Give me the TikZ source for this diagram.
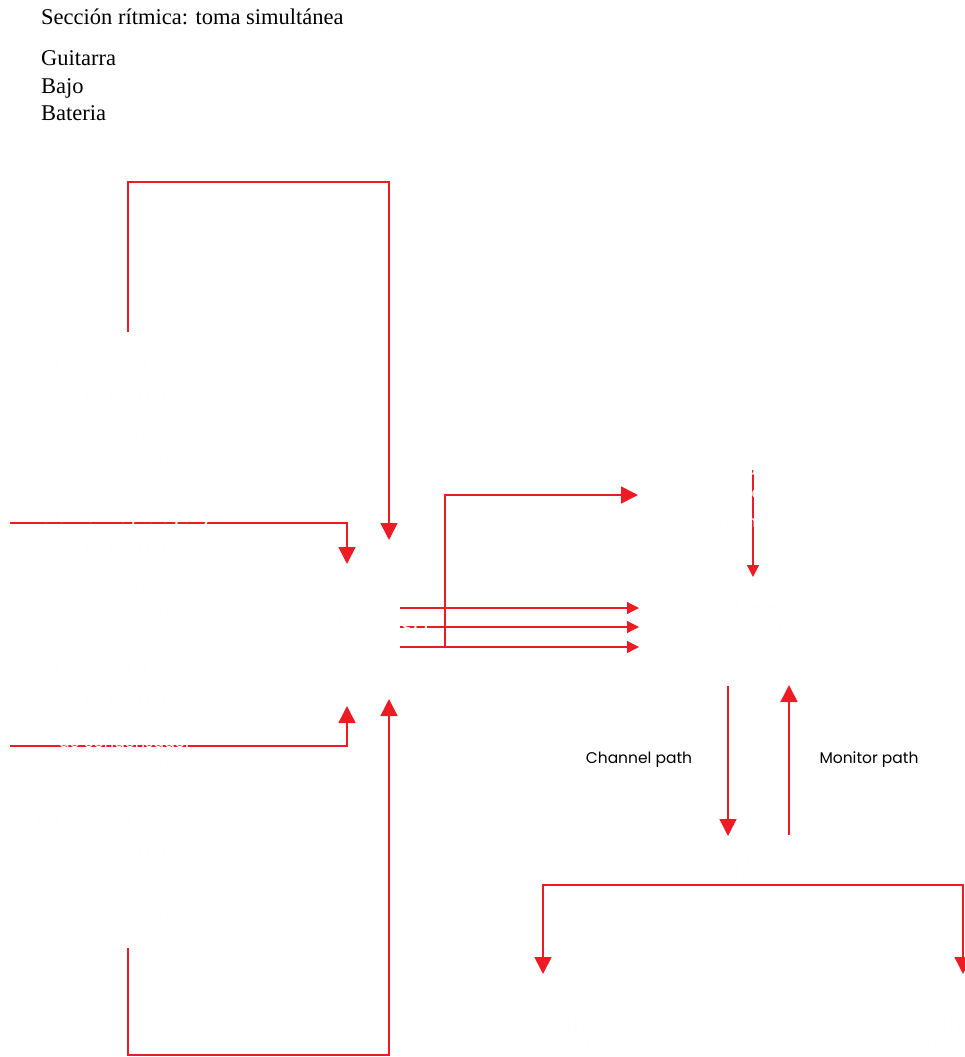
\documentclass[tikz,border=0pt]{standalone}
\usepackage{fontspec}
\setmainfont{Liberation Serif}
\newfontfamily\labfont{Poppins}
\usetikzlibrary{arrows.meta}
\definecolor{lred}{HTML}{ED1C24}
\definecolor{ghost}{HTML}{FEFEFE}
\tikzset{
  wire/.style={draw=lred, line width=1.6pt},
  bigarrow/.style={wire, -{Triangle[length=17pt,width=17pt]}},
  smallarrow/.style={wire, line width=1.2pt, -{Triangle[length=12pt,width=12pt]}},
  title/.style={font=\fontsize{22.5}{27}\selectfont, anchor=base west, inner sep=0pt},
  pathlabel/.style={font=\labfont\fontsize{15.5}{18}\selectfont, text=black, inner sep=0pt},
  hidhead/.style={font=\labfont\fontsize{23}{26}\selectfont, text=ghost, inner sep=0pt},
  hidsub/.style={font=\labfont\fontsize{16}{18}\selectfont, text=ghost, inner sep=0pt},
}
\begin{document}
\begin{tikzpicture}[x=1pt,y=-1pt]
\useasboundingbox (0,0) rectangle (965,1057);
% visible title text
\node[title] (ttl) at (41,25) {Sección rítmica: toma simultánea};
\node[title] (g) at (41,66) {Guitarra};
\node[title] (b) at (41,93) {Bajo};
\node[title] (bt) at (41,120) {Bateria};

% coordinates
\coordinate (a1) at (128,332);
\coordinate (a2) at (389,540);
\coordinate (l1) at (10,523);
\coordinate (l2) at (347,564);
\coordinate (l3) at (10,746);
\coordinate (l4) at (347,706);
\coordinate (c1) at (128,948);
\coordinate (c2) at (389,699);
\coordinate (e1) at (445,648);
\coordinate (e2) at (638,495);
\coordinate (h1s) at (400,608); \coordinate (h1e) at (639,608);
\coordinate (h2s) at (400,627); \coordinate (h2e) at (639,627);
\coordinate (h3s) at (400,647); \coordinate (h3e) at (639,647);
\coordinate (v1s) at (753,470); \coordinate (v1e) at (753,577);
\coordinate (chs) at (728,686); \coordinate (che) at (728,836);
\coordinate (mos) at (789,835); \coordinate (moe) at (789,685);
\coordinate (ioL) at (543,974); \coordinate (ioR) at (963,974);

% connectors
\draw[bigarrow] (a1) -- (128,182) -- (389,182) -- (a2);
\draw[bigarrow] (l1) -- (347,523) -- (l2);
\draw[bigarrow] (l3) -- (347,746) -- (l4);
\draw[bigarrow] (c1) -- (128,1055) -- (389,1055) -- (c2);
\draw[bigarrow] (e1) -- (445,495) -- (e2);
\draw[smallarrow] (h1s) -- (h1e);
\draw[smallarrow] (h2s) -- (h2e);
\draw[smallarrow] (h3s) -- (h3e);
\draw[smallarrow] (v1s) -- (v1e);
\draw[bigarrow] (chs) -- (che);
\draw[bigarrow] (mos) -- (moe);
\draw[wire] (543,885) -- (963,885);
\draw[bigarrow] (543,884.2) -- (ioL);
\draw[bigarrow] (963,884.2) -- (ioR);

% path labels
\node[pathlabel] (chl) at (639,760) {Channel path};
\node[pathlabel] (mol) at (869,760) {Monitor path};

% ghost texts (near white, drawn over the lines)
\foreach \n/\y in {m1/365, m2/517, m3/670, m4/823}{
  \node[hidhead] (\n h) at (125,\y) {Guitarra, bajo y};
  \node[hidhead] (\n b) at (125,\y+29) {batería};
  \node[hidsub] (\n s) at (125,\y+57) {Micrófono};
  \node[hidsub] (\n t) at (125,\y+72) {de condensador};
  \node[hidsub] (\n u) at (125,\y+94) {(AKG - 414)};
}
\node[hidhead] (medusa) at (383,626) {Medusa};
\node[hidsub] (av1) at (753,470) {Avalon};
\node[hidsub] (av2) at (753,496) {pre-amp};
\node[hidsub] (av3) at (753,522) {(canal 1)};
\node[hidhead] (sc1) at (755,600) {Soundcraft};
\node[hidhead] (sc2) at (755,628) {2000};
\node[hidhead] (io) at (752,871) {I/O};
\node[hidsub] (pt) at (752,903) {( Pro tools )};
\node[hidhead] (pl) at (547,1024) {Parlante};
\node[hidsub] (pli) at (547,1047) {(izquierdo)};
\node[hidhead] (pr) at (967,1024) {Parlante};
\node[hidsub] (prd) at (967,1047) {(derecho)};
\end{tikzpicture}
\end{document}
